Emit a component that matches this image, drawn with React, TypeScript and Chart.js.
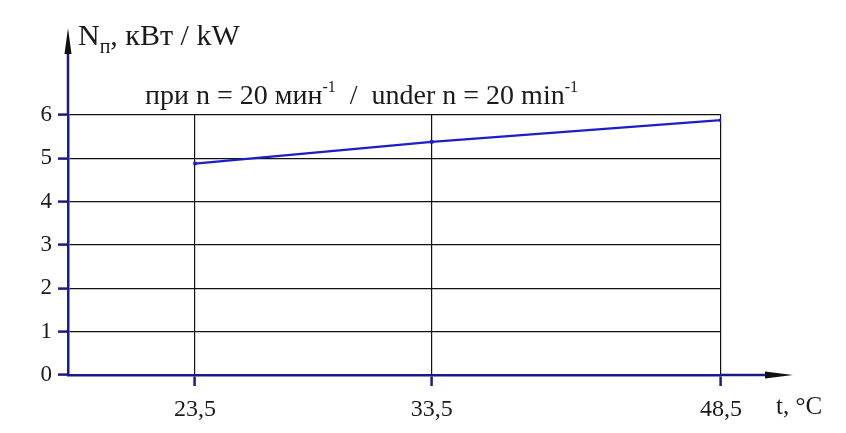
import React, { useEffect, useRef } from "react";
import { Chart, registerables, LinearScale } from "chart.js";

Chart.register(...registerables);

// ---- data ----
const temperatures = [23.5, 33.5, 48.5];
const xTickLabels = ["23,5", "33,5", "48,5"];
const powerKW = [4.88, 5.38, 5.88];
const yTicks = [0, 1, 2, 3, 4, 5, 6];

// Non-uniform x axis: each tick value sits at a fixed fraction of the axis width
class AnchoredScale extends LinearScale {
  static id = "anchored";
  static defaults = LinearScale.defaults;
  _anchors() {
    const o: any = this.options;
    const vals: number[] = [this.min, ...o.anchorValues];
    const fr: number[] = [0, ...o.anchorFractions];
    return { vals, fr };
  }
  getPixelForValue(value: number) {
    if (value === null || value === undefined) return NaN;
    const { vals, fr } = this._anchors();
    let d = 0;
    if (value <= vals[0]) d = 0;
    else if (value >= vals[vals.length - 1]) d = fr[fr.length - 1];
    else {
      for (let i = 0; i < vals.length - 1; i++) {
        if (value >= vals[i] && value <= vals[i + 1]) {
          d = fr[i] + ((value - vals[i]) / (vals[i + 1] - vals[i])) * (fr[i + 1] - fr[i]);
          break;
        }
      }
    }
    return this.getPixelForDecimal(d);
  }
  getValueForPixel(pixel: number) {
    const { vals, fr } = this._anchors();
    const d = this.getDecimalForPixel(pixel);
    for (let i = 0; i < fr.length - 1; i++) {
      if (d >= fr[i] && d <= fr[i + 1]) {
        return vals[i] + ((d - fr[i]) / (fr[i + 1] - fr[i])) * (vals[i + 1] - vals[i]);
      }
    }
    return vals[vals.length - 1];
  }
}
Chart.register(AnchoredScale as any);

const NAVY = "#1a1a8a";
const LINE = "#1d1dc9";
const TEXT = "#1a1a1a";
const SERIF = "'Liberation Serif', 'DejaVu Serif', serif";

const decorPlugin = {
  id: "decor",
  afterDraw(chart: any) {
    const ctx: CanvasRenderingContext2D = chart.ctx;
    const ca = chart.chartArea;
    ctx.save();
    // y axis extension + arrow
    ctx.strokeStyle = NAVY;
    ctx.lineWidth = 2.5;
    ctx.beginPath();
    ctx.moveTo(ca.left, ca.top);
    ctx.lineTo(ca.left, 38);
    ctx.stroke();
    ctx.fillStyle = "#111";
    ctx.beginPath();
    ctx.moveTo(ca.left, 20);
    ctx.lineTo(ca.left - 3.5, 46);
    ctx.lineTo(ca.left + 3.5, 46);
    ctx.closePath();
    ctx.fill();
    // x axis extension + arrow
    ctx.strokeStyle = NAVY;
    ctx.beginPath();
    ctx.moveTo(ca.right, ca.bottom);
    ctx.lineTo(ca.right + 50, ca.bottom);
    ctx.stroke();
    ctx.fillStyle = "#111";
    ctx.beginPath();
    ctx.moveTo(ca.right + 72, ca.bottom);
    ctx.lineTo(ca.right + 44, ca.bottom - 3.5);
    ctx.lineTo(ca.right + 44, ca.bottom + 3.5);
    ctx.closePath();
    ctx.fill();

    ctx.fillStyle = TEXT;
    ctx.textBaseline = "alphabetic";
    ctx.textAlign = "left";
    // y axis title N_п, кВт / kW
    let x = 70;
    ctx.font = `30px ${SERIF}`;
    ctx.fillText("N", x, 37);
    x += ctx.measureText("N").width;
    ctx.font = `20px ${SERIF}`;
    ctx.fillText("п", x, 45);
    x += ctx.measureText("п").width;
    ctx.font = `30px ${SERIF}`;
    ctx.fillText(", кВт / kW", x, 37);

    // condition text
    const base = 96;
    x = 137;
    const big = `28px ${SERIF}`;
    const sup = `16px ${SERIF}`;
    const parts: [string, string, number][] = [
      ["при n = 20 мин", big, 0],
      ["-1", sup, -12],
      ["  /  under n = 20 min", big, 0],
      ["-1", sup, -12],
    ];
    for (const [t, f, dy] of parts) {
      ctx.font = f;
      ctx.fillText(t, x, base + dy);
      x += ctx.measureText(t).width;
    }

    // x axis title
    ctx.font = `25px ${SERIF}`;
    ctx.fillText("t, °C", ca.right + 55, 406);
    ctx.restore();
  },
};

export default function App() {
  const ref = useRef<HTMLCanvasElement>(null);
  useEffect(() => {
    if (!ref.current) return;
    const chart = new Chart(ref.current, {
      type: "line",
      data: {
        datasets: [
          {
            data: temperatures.map((t, i) => ({ x: t, y: powerKW[i] })),
            borderColor: LINE,
            backgroundColor: LINE,
            borderWidth: 2.2,
            pointStyle: "rect",
            pointRadius: 2.5,
            pointBorderWidth: 0,
            tension: 0,
          },
        ],
      },
      options: {
        animation: false,
        responsive: false,
        maintainAspectRatio: false,
        events: [],
        layout: { padding: { left: 0, top: 107, right: 117, bottom: 0 } },
        plugins: { legend: { display: false }, tooltip: { enabled: false }, title: { display: false } },
        scales: {
          x: {
            type: "anchored" as any,
            min: 17,
            max: 48.5,
            anchorValues: temperatures,
            anchorFractions: [0.1945, 0.557, 1],
            afterFit: (s: any) => {
              s.height = 50;
            },
            afterBuildTicks: (s: any) => {
              s.ticks = temperatures.map((v) => ({ value: v }));
            },
            grid: {
              color: "#111",
              lineWidth: 1.2,
              drawTicks: true,
              tickLength: 11,
              tickColor: NAVY,
              tickWidth: 2.5,
            },
            border: { display: true, color: NAVY, width: 2.5 },
            ticks: {
              autoSkip: false,
              maxRotation: 0,
              padding: 9,
              color: TEXT,
              font: { family: SERIF, size: 24 },
              callback: (_v: any, i: number) => xTickLabels[i],
            },
          } as any,
          y: {
            type: "linear",
            min: 0,
            max: 6,
            afterFit: (s: any) => {
              s.width = 60;
            },
            afterBuildTicks: (s: any) => {
              s.ticks = yTicks.map((v) => ({ value: v }));
            },
            grid: {
              color: "#111",
              lineWidth: 1.2,
              drawTicks: true,
              tickLength: 10,
              tickColor: NAVY,
              tickWidth: 2.5,
            },
            border: { display: true, color: NAVY, width: 2.5 },
            ticks: {
              padding: 6,
              color: TEXT,
              font: { family: SERIF, size: 23 },
              callback: (v: any) => String(v),
            },
          },
        },
      } as any,
      plugins: [decorPlugin],
    });
    return () => chart.destroy();
  }, []);
  return <canvas ref={ref} width={830} height={417} style={{ display: "block" }} />;
}
